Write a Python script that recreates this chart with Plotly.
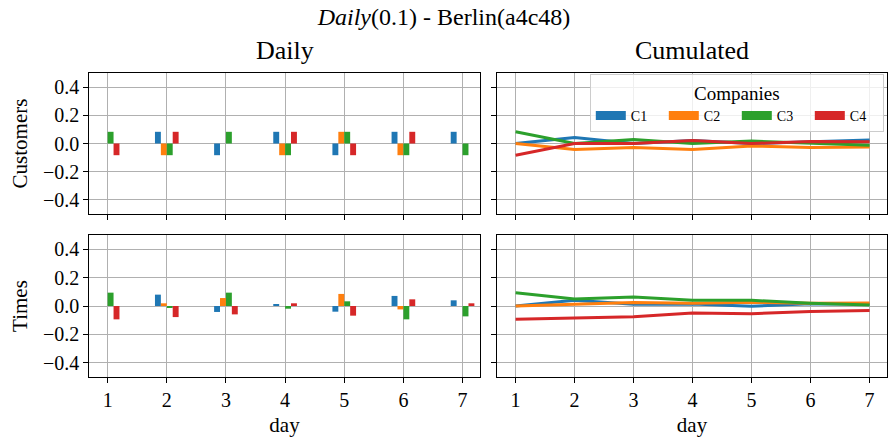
import plotly.graph_objects as go
from plotly.subplots import make_subplots

days = [1, 2, 3, 4, 5, 6, 7]
companies = ["C1", "C2", "C3", "C4"]
colors = ["#1f77b4", "#ff7f0e", "#2ca02c", "#d62728"]

# Daily values (Customers)
cust_daily_c1 = [0, 0.083, -0.083, 0.083, -0.083, 0.083, 0.083]
cust_daily_c2 = [0, -0.083, 0, -0.083, 0.083, -0.083, 0]
cust_daily_c3 = [0.083, -0.083, 0.083, -0.083, 0.083, -0.083, -0.083]
cust_daily_c4 = [-0.083, 0.083, 0, 0.083, -0.083, 0.083, 0]

# Cumulated values (Customers)
cust_cum_c1 = [0, 0.042, 0, 0.021, 0, 0.014, 0.024]
cust_cum_c2 = [0, -0.042, -0.028, -0.042, -0.017, -0.028, -0.024]
cust_cum_c3 = [0.083, 0, 0.028, 0, 0.017, 0, -0.012]
cust_cum_c4 = [-0.083, 0, 0, 0.021, 0, 0.014, 0.012]

# Daily values (Times)
times_daily_c1 = [0, 0.08, -0.042, 0.012, -0.04, 0.071, 0.04]
times_daily_c2 = [0, 0.019, 0.056, 0, 0.085, -0.024, 0]
times_daily_c3 = [0.094, -0.014, 0.094, -0.019, 0.033, -0.094, -0.073]
times_daily_c4 = [-0.094, -0.078, -0.059, 0.019, -0.068, 0.047, 0.019]

# Cumulated values (Times)
times_cum_c1 = [0, 0.04, 0.012, 0.014, -0.002, 0.016, 0.014]
times_cum_c2 = [0, 0.01, 0.024, 0.019, 0.026, 0.019, 0.021]
times_cum_c3 = [0.094, 0.049, 0.064, 0.04, 0.04, 0.019, 0.007]
times_cum_c4 = [-0.094, -0.085, -0.075, -0.049, -0.054, -0.038, -0.031]

ytick_vals = [-0.4, -0.2, 0.0, 0.2, 0.4]
ytick_text = ["\u22120.4", "\u22120.2", "0.0", "0.2", "0.4"]

cust_daily = [cust_daily_c1, cust_daily_c2, cust_daily_c3, cust_daily_c4]
cust_cum = [cust_cum_c1, cust_cum_c2, cust_cum_c3, cust_cum_c4]
times_daily = [times_daily_c1, times_daily_c2, times_daily_c3, times_daily_c4]
times_cum = [times_cum_c1, times_cum_c2, times_cum_c3, times_cum_c4]

FONT = "Liberation Serif"

fig = make_subplots(rows=2, cols=2, shared_xaxes=True, shared_yaxes=True)

for i, name in enumerate(companies):
    fig.add_trace(go.Bar(x=days, y=cust_daily[i], marker=dict(color=colors[i], line=dict(width=0)),
                         name=name, showlegend=False), row=1, col=1)
    fig.add_trace(go.Bar(x=days, y=times_daily[i], marker=dict(color=colors[i], line=dict(width=0)),
                         name=name, showlegend=False), row=2, col=1)
    fig.add_trace(go.Scatter(x=days, y=cust_cum[i], mode="lines", line=dict(color=colors[i], width=3),
                             name=name, showlegend=False), row=1, col=2)
    fig.add_trace(go.Scatter(x=days, y=times_cum[i], mode="lines", line=dict(color=colors[i], width=3),
                             name=name, showlegend=False), row=2, col=2)

# legend entries (rectangular handles)
for i, name in enumerate(companies):
    fig.add_trace(go.Scatter(x=[None], y=[None], mode="lines", line=dict(color=colors[i], width=9),
                             name=name, showlegend=True), row=1, col=2)

L, R, T, B = 89, 1, 73, 62
W, H = 888, 439
pw = W - L - R
ph = H - T - B

def clamp(v):
    return max(0.0, min(1.0, v))

def dx(a, b):
    return [clamp((a - L) / pw), clamp((b - L) / pw)]

def dy(top, bottom):
    return [clamp((H - B - bottom) / ph), clamp((H - B - top) / ph)]

axis_common = dict(
    showline=True, linecolor="black", linewidth=1.3, mirror=True,
    showgrid=True, gridcolor="#b0b0b0", gridwidth=1.4,
    zeroline=False, ticks="outside", ticklen=4.5, tickwidth=1.2, tickcolor="black",
    tickfont=dict(family=FONT, size=20, color="black"),
)

xd_left = dx(89, 480)
xd_right = dx(497, 887)
yd_top = dy(73, 214)
yd_bot = dy(235, 377)

for ax, dom in (("xaxis", xd_left), ("xaxis2", xd_right), ("xaxis3", xd_left), ("xaxis4", xd_right)):
    fig.layout[ax].update(domain=dom, range=[0.685, 7.295], tickvals=days, **axis_common)
for ax, dom in (("yaxis", yd_top), ("yaxis2", yd_top), ("yaxis3", yd_bot), ("yaxis4", yd_bot)):
    fig.layout[ax].update(domain=dom, range=[-0.5, 0.5], tickvals=ytick_vals, ticktext=ytick_text, **axis_common)

fig.update_xaxes(title=dict(text="day", font=dict(family=FONT, size=21, color="black"), standoff=7), row=2)
fig.update_yaxes(title=dict(text="Customers", font=dict(family=FONT, size=21, color="black"), standoff=9), row=1, col=1)
fig.update_yaxes(title=dict(text="Times", font=dict(family=FONT, size=21, color="black"), standoff=9), row=2, col=1)

fig.update_layout(
    width=W, height=H,
    margin=dict(l=L, r=R, t=T, b=B, autoexpand=False),
    paper_bgcolor="white", plot_bgcolor="white",
    barmode="group", bargap=0.6, bargroupgap=0,
    font=dict(family=FONT, color="black"),
    title=dict(text="<i>Daily</i>(0.1) - Berlin(a4c48)", x=0.5, xref="container", xanchor="center",
               y=1 - 17 / H, yref="container", yanchor="middle",
               font=dict(family=FONT, size=24, color="black")),
    legend=dict(orientation="h", x=0.996, xanchor="right", y=0.996, yanchor="top",
                title=dict(text="Companies", side="top center", font=dict(family=FONT, size=19, color="black")),
                font=dict(family=FONT, size=14, color="black"),
                bgcolor="rgba(255,255,255,0.8)", bordercolor="#cccccc", borderwidth=1,
                entrywidth=28, entrywidthmode="pixels", itemwidth=30, tracegroupgap=0),
    annotations=[
        dict(text="Daily", x=(xd_left[0] + xd_left[1]) / 2, y=(H - B - 50) / ph, xref="paper", yref="paper",
             xanchor="center", yanchor="middle", showarrow=False, font=dict(family=FONT, size=26, color="black")),
        dict(text="Cumulated", x=(xd_right[0] + xd_right[1]) / 2, y=(H - B - 50) / ph, xref="paper", yref="paper",
             xanchor="center", yanchor="middle", showarrow=False, font=dict(family=FONT, size=26, color="black")),
    ],
)

fig.write_html("out.html", config={"displayModeBar": False},
               post_script="document.body.style.margin='0px';")
